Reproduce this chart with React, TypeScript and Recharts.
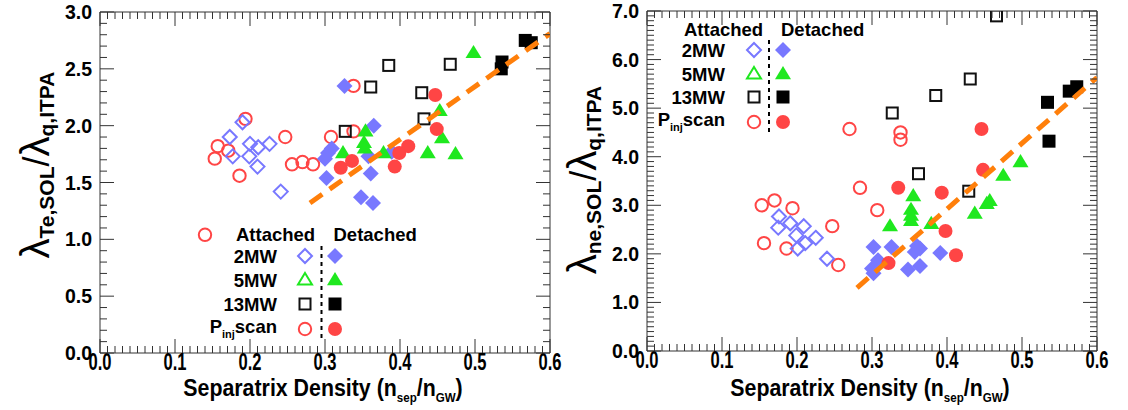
import React from 'react';
import { ScatterChart, Scatter, XAxis, YAxis } from 'recharts';

type Pt = { x: number; y: number };

// ---------------- Left panel: lambda_Te,SOL / lambda_q,ITPA ----------------
const teAtt2MW: Pt[] = [
  { x: 0.190, y: 2.03 }, { x: 0.173, y: 1.90 }, { x: 0.200, y: 1.84 }, { x: 0.211, y: 1.81 },
  { x: 0.226, y: 1.84 }, { x: 0.177, y: 1.73 }, { x: 0.199, y: 1.73 }, { x: 0.210, y: 1.64 },
  { x: 0.241, y: 1.42 },
];
const teDet2MW: Pt[] = [
  { x: 0.326, y: 2.35 }, { x: 0.365, y: 2.00 }, { x: 0.309, y: 1.80 }, { x: 0.304, y: 1.76 },
  { x: 0.300, y: 1.71 }, { x: 0.302, y: 1.54 }, { x: 0.358, y: 1.73 }, { x: 0.361, y: 1.58 },
  { x: 0.348, y: 1.37 }, { x: 0.364, y: 1.32 }, { x: 0.389, y: 1.77 },
];
const teDet5MW: Pt[] = [
  { x: 0.498, y: 2.64 }, { x: 0.453, y: 2.13 }, { x: 0.456, y: 1.89 }, { x: 0.437, y: 1.76 },
  { x: 0.474, y: 1.75 }, { x: 0.354, y: 1.95 }, { x: 0.352, y: 1.85 }, { x: 0.353, y: 1.80 },
  { x: 0.324, y: 1.76 }, { x: 0.378, y: 1.76 },
];
const teAtt13MW: Pt[] = [
  { x: 0.385, y: 2.53 }, { x: 0.467, y: 2.54 }, { x: 0.361, y: 2.34 }, { x: 0.429, y: 2.29 },
  { x: 0.432, y: 2.06 }, { x: 0.327, y: 1.95 },
];
const teDet13MW: Pt[] = [
  { x: 0.567, y: 2.75 }, { x: 0.575, y: 2.73 }, { x: 0.536, y: 2.56 }, { x: 0.535, y: 2.50 },
];
const teAttPinj: Pt[] = [
  { x: 0.194, y: 2.06 }, { x: 0.157, y: 1.82 }, { x: 0.171, y: 1.78 }, { x: 0.153, y: 1.71 },
  { x: 0.186, y: 1.56 }, { x: 0.247, y: 1.90 }, { x: 0.256, y: 1.66 }, { x: 0.270, y: 1.68 },
  { x: 0.284, y: 1.66 }, { x: 0.308, y: 1.90 }, { x: 0.338, y: 2.35 }, { x: 0.338, y: 1.95 },
  { x: 0.140, y: 1.04 },
];
const teDetPinj: Pt[] = [
  { x: 0.447, y: 2.27 }, { x: 0.449, y: 1.97 }, { x: 0.411, y: 1.82 }, { x: 0.399, y: 1.76 },
  { x: 0.393, y: 1.64 }, { x: 0.336, y: 1.69 }, { x: 0.321, y: 1.63 },
];
const teFit: Pt[] = [{ x: 0.28, y: 1.32 }, { x: 0.60, y: 2.81 }];

// ---------------- Right panel: lambda_ne,SOL / lambda_q,ITPA ----------------
const neAtt2MW: Pt[] = [
  { x: 0.176, y: 2.77 }, { x: 0.191, y: 2.63 }, { x: 0.175, y: 2.54 }, { x: 0.209, y: 2.57 },
  { x: 0.199, y: 2.38 }, { x: 0.225, y: 2.33 }, { x: 0.211, y: 2.22 }, { x: 0.201, y: 2.11 },
  { x: 0.240, y: 1.90 },
];
const neDet2MW: Pt[] = [
  { x: 0.302, y: 2.14 }, { x: 0.326, y: 2.14 }, { x: 0.308, y: 1.87 }, { x: 0.300, y: 1.70 },
  { x: 0.302, y: 1.60 }, { x: 0.360, y: 2.16 }, { x: 0.364, y: 2.11 }, { x: 0.357, y: 2.04 },
  { x: 0.391, y: 2.02 }, { x: 0.348, y: 1.68 }, { x: 0.364, y: 1.75 },
];
const neDet5MW: Pt[] = [
  { x: 0.355, y: 3.19 }, { x: 0.352, y: 2.91 }, { x: 0.352, y: 2.79 }, { x: 0.352, y: 2.68 },
  { x: 0.324, y: 2.57 }, { x: 0.379, y: 2.62 }, { x: 0.437, y: 2.83 }, { x: 0.453, y: 3.03 },
  { x: 0.457, y: 3.09 }, { x: 0.475, y: 3.61 }, { x: 0.498, y: 3.89 },
];
const neAtt13MW: Pt[] = [
  { x: 0.466, y: 6.90 }, { x: 0.431, y: 5.60 }, { x: 0.385, y: 5.26 }, { x: 0.327, y: 4.90 },
  { x: 0.362, y: 3.65 }, { x: 0.429, y: 3.29 },
];
const neDet13MW: Pt[] = [
  { x: 0.534, y: 5.12 }, { x: 0.563, y: 5.35 }, { x: 0.573, y: 5.44 }, { x: 0.536, y: 4.32 },
];
const neAttPinj: Pt[] = [
  { x: 0.270, y: 4.57 }, { x: 0.338, y: 4.50 }, { x: 0.338, y: 4.35 }, { x: 0.284, y: 3.36 },
  { x: 0.307, y: 2.90 }, { x: 0.153, y: 3.00 }, { x: 0.170, y: 3.10 }, { x: 0.194, y: 2.94 },
  { x: 0.247, y: 2.57 }, { x: 0.156, y: 2.22 }, { x: 0.186, y: 2.11 }, { x: 0.255, y: 1.77 },
];
const neDetPinj: Pt[] = [
  { x: 0.446, y: 4.57 }, { x: 0.448, y: 3.73 }, { x: 0.335, y: 3.36 }, { x: 0.393, y: 3.26 },
  { x: 0.398, y: 2.47 }, { x: 0.412, y: 1.97 }, { x: 0.322, y: 1.81 },
];
const neFit: Pt[] = [{ x: 0.28, y: 1.30 }, { x: 0.60, y: 5.63 }];

// ---------------- Axes ----------------
const xMajor = [0, 0.1, 0.2, 0.3, 0.4, 0.5, 0.6];
const xLabels = ['0.0', '0.1', '0.2', '0.3', '0.4', '0.5', '0.6'];
const xMinor = Array.from({ length: 61 }, (_, i) => i / 100);

const teYMajor = [0, 0.5, 1.0, 1.5, 2.0, 2.5, 3.0];
const teYLabels = ['0.0', '0.5', '1.0', '1.5', '2.0', '2.5', '3.0'];
const teYMinor = Array.from({ length: 31 }, (_, i) => i / 10);

const neYMajor = [0, 1, 2, 3, 4, 5, 6, 7];
const neYLabels = ['0.0', '1.0', '2.0', '3.0', '4.0', '5.0', '6.0', '7.0'];
const neYMinor = Array.from({ length: 71 }, (_, i) => i / 10);

const legendRows = ['2MW', '5MW', '13MW'];

// ---------------- Styles ----------------
const BLUE = '#7878ff';
const GREEN = '#1fe81f';
const RED = '#ff4545';
const BLACK = '#000000';
const ORANGE = '#ff7f0a';
const FRAME = '#333';
const SANS = '"Liberation Sans", Arial, Helvetica, sans-serif';

type Kind = 'diamond' | 'triangle' | 'square' | 'circle';

function Marker({ kind, filled, color, cx, cy }: { kind: Kind; filled: boolean; color: string; cx: number; cy: number }) {
  if (cx == null || cy == null) return <g />;
  const fill = filled ? color : 'none';
  const stroke = filled ? 'none' : color;
  const sw = 2;
  if (kind === 'diamond') {
    const r = filled ? 8 : 7;
    return <polygon points={`${cx},${cy - r} ${cx + r},${cy} ${cx},${cy + r} ${cx - r},${cy}`} fill={fill} stroke={stroke} strokeWidth={sw} />;
  }
  if (kind === 'triangle') {
    const h = filled ? 8 : 7;
    const w = filled ? 8 : 7;
    return <polygon points={`${cx},${cy - h} ${cx + w},${cy + h * 0.65} ${cx - w},${cy + h * 0.65}`} fill={fill} stroke={stroke} strokeWidth={sw} strokeLinejoin="miter" />;
  }
  if (kind === 'square') {
    const s = filled ? 13 : 11;
    return <rect x={cx - s / 2} y={cy - s / 2} width={s} height={s} fill={fill} stroke={filled ? 'none' : '#111'} strokeWidth={sw} />;
  }
  const r = filled ? 7 : 6.2;
  return <circle cx={cx} cy={cy} r={r} fill={fill} stroke={stroke} strokeWidth={sw} />;
}

const shapeOf = (kind: Kind, filled: boolean, color: string) => (p: any) => (
  <Marker kind={kind} filled={filled} color={color} cx={p.cx} cy={p.cy} />
);

const findIdx = (arr: number[], v: number) => arr.findIndex((m) => Math.abs(m - v) < 1e-6);

const bottomTick = (p: any) => {
  const { x, y, payload } = p;
  const i = findIdx(xMajor, payload.value);
  const len = i >= 0 ? 14 : 7;
  return (
    <g>
      <line x1={x} y1={y} x2={x} y2={y - len} stroke={FRAME} strokeWidth={1} />
      {i >= 0 && (
        <text transform={`translate(${x},${y + 17}) scale(0.72,1)`} x={0} y={0} textAnchor="middle"
          fontFamily={SANS} fontWeight="bold" fontSize={23} fill="#000">
          {xLabels[i]}
        </text>
      )}
    </g>
  );
};
const topTick = (p: any) => {
  const { x, y, payload } = p;
  const i = findIdx(xMajor, payload.value);
  const len = i >= 0 ? 14 : 7;
  return <line x1={x} y1={y} x2={x} y2={y + len} stroke={FRAME} strokeWidth={1} />;
};
const leftTick = (major: number[], labels: string[]) => (p: any) => {
  const { x, y, payload } = p;
  const i = findIdx(major, payload.value);
  const len = i >= 0 ? 14 : 7;
  return (
    <g>
      <line x1={x} y1={y} x2={x + len} y2={y} stroke={FRAME} strokeWidth={1} />
      {i >= 0 && (
        <text x={x - 8} y={y + 7} textAnchor="end" fontFamily={SANS} fontWeight="bold" fontSize={19.5} fill="#000">
          {labels[i]}
        </text>
      )}
    </g>
  );
};
const rightTick = (major: number[]) => (p: any) => {
  const { x, y, payload } = p;
  const i = findIdx(major, payload.value);
  const len = i >= 0 ? 14 : 7;
  return <line x1={x} y1={y} x2={x - len} y2={y} stroke={FRAME} strokeWidth={1} />;
};

type PanelProps = {
  left: number;
  margin: { top: number; right: number; bottom: number; left: number };
  yWidth: number;
  yDomain: [number, number];
  yMajor: number[];
  yLabels: string[];
  yMinor: number[];
  att2: Pt[]; det2: Pt[]; det5: Pt[]; att13: Pt[]; det13: Pt[]; attP: Pt[]; detP: Pt[]; fit: Pt[];
};

function Panel(props: PanelProps) {
  const { left, margin, yWidth, yDomain, yMajor, yLabels, yMinor } = props;
  const ax = { stroke: FRAME, strokeWidth: 1 };
  const common = { xAxisId: 'b', yAxisId: 'l', isAnimationActive: false } as any;
  return (
    <div style={{ position: 'absolute', left, top: 0 }}>
      <ScatterChart width={564} height={410} margin={margin}>
        <XAxis xAxisId="b" type="number" dataKey="x" domain={[0, 0.6]} ticks={xMinor} interval={0} height={50}
          tickSize={0} tickMargin={0} tickLine={false} axisLine={ax} tick={bottomTick} allowDataOverflow />
        <XAxis xAxisId="t" orientation="top" type="number" dataKey="x" domain={[0, 0.6]} ticks={xMinor} interval={0} height={2}
          tickSize={0} tickMargin={0} tickLine={false} axisLine={ax} tick={topTick} allowDataOverflow />
        <YAxis yAxisId="l" type="number" dataKey="y" domain={yDomain} ticks={yMinor} interval={0} width={yWidth}
          tickSize={0} tickMargin={0} tickLine={false} axisLine={ax} tick={leftTick(yMajor, yLabels)} allowDataOverflow />
        <YAxis yAxisId="r" orientation="right" type="number" dataKey="y" domain={yDomain} ticks={yMinor} interval={0} width={4}
          tickSize={0} tickMargin={0} tickLine={false} axisLine={ax} tick={rightTick(yMajor)} allowDataOverflow />
        <Scatter {...common} data={props.attP} shape={shapeOf('circle', false, RED)} />
        <Scatter {...common} data={props.att2} shape={shapeOf('diamond', false, BLUE)} />
        <Scatter {...common} data={props.det2} shape={shapeOf('diamond', true, BLUE)} />
        <Scatter {...common} data={props.att13} shape={shapeOf('square', false, BLACK)} />
        <Scatter {...common} data={props.det5} shape={shapeOf('triangle', true, GREEN)} />
        <Scatter {...common} data={props.detP} shape={shapeOf('circle', true, RED)} />
        <Scatter {...common} data={props.det13} shape={shapeOf('square', true, BLACK)} />
        <Scatter {...common} data={props.fit} shape={() => <g />}
          line={{ stroke: ORANGE, strokeWidth: 5, strokeDasharray: '15 9' }} lineType="joint" />
      </ScatterChart>
    </div>
  );
}

function Legend({ x0, yHead, rows, labelRight, openX, fillX, dashX }: {
  x0: number; yHead: number; rows: number[]; labelRight: number; openX: number; fillX: number; dashX: number;
}) {
  const kinds: [Kind, string][] = [['diamond', BLUE], ['triangle', GREEN], ['square', BLACK], ['circle', RED]];
  const tf = { fontFamily: SANS, fontWeight: 'bold' as const, fontSize: 18.5, fill: '#000' };
  return (
    <g>
      <text x={x0} y={yHead + 6.5} {...tf}>Attached</text>
      <text x={dashX + 12} y={yHead + 6.5} {...tf}>Detached</text>
      {rows.map((ry, i) => (
        <g key={i}>
          {i < 3 ? (
            <text x={labelRight} y={ry + 6.5} textAnchor="end" {...tf}>{legendRows[i]}</text>
          ) : (
            <text x={labelRight} y={ry + 4} textAnchor="end" {...tf}>
              P<tspan fontSize={11} dy={5}>inj</tspan><tspan dy={-5}>scan</tspan>
            </text>
          )}
          <Marker kind={kinds[i][0]} filled={false} color={kinds[i][1]} cx={openX} cy={ry} />
          <Marker kind={kinds[i][0]} filled={true} color={kinds[i][1]} cx={fillX} cy={ry} />
        </g>
      ))}
      <line x1={dashX} y1={rows[0] - 10} x2={dashX} y2={rows[3] + 10} stroke="#000" strokeWidth={2} strokeDasharray="4 4" />
    </g>
  );
}

function YTitle({ x, y, sub1 }: { x: number; y: number; sub1: string }) {
  return (
    <text transform={`translate(${x},${y}) rotate(-90)`} textAnchor="middle" fontFamily={SANS} fill="#000">
      <tspan fontSize={40}>λ</tspan>
      <tspan fontSize={21} fontWeight="bold" dy={5}>{sub1}</tspan>
      <tspan fontSize={36} dy={-5}>/</tspan>
      <tspan fontSize={40}>λ</tspan>
      <tspan fontSize={21} fontWeight="bold" dy={5}>q,ITPA</tspan>
    </text>
  );
}

function XTitle({ x, y }: { x: number; y: number }) {
  return (
    <text transform={`translate(${x},${y}) scale(0.89,1)`} x={0} y={0} textAnchor="middle" fontFamily={SANS}
      fontWeight="bold" fontSize={24} fill="#000">
      Separatrix Density (n<tspan fontSize={13} dy={6}>sep</tspan><tspan dy={-6}>/n</tspan>
      <tspan fontSize={13} dy={6}>GW</tspan><tspan dy={-6}>)</tspan>
    </text>
  );
}

export default function App() {
  return (
    <div style={{ position: 'absolute', left: 0, top: 0, width: 1128, height: 410, background: '#fff', overflow: 'hidden' }}>
      <Panel left={0} margin={{ top: 10, right: 10, bottom: 7, left: 10 }} yWidth={90} yDomain={[0, 3]}
        yMajor={teYMajor} yLabels={teYLabels} yMinor={teYMinor}
        att2={teAtt2MW} det2={teDet2MW} det5={teDet5MW} att13={teAtt13MW} det13={teDet13MW}
        attP={teAttPinj} detP={teDetPinj} fit={teFit} />
      <Panel left={564} margin={{ top: 9, right: 27, bottom: 9, left: 10 }} yWidth={73} yDomain={[0, 7]}
        yMajor={neYMajor} yLabels={neYLabels} yMinor={neYMinor}
        att2={neAtt2MW} det2={neDet2MW} det5={neDet5MW} att13={neAtt13MW} det13={neDet13MW}
        attP={neAttPinj} detP={neDetPinj} fit={neFit} />
      <svg width={1128} height={410} style={{ position: 'absolute', left: 0, top: 0, pointerEvents: 'none' }}>
        <Legend x0={236} yHead={234} rows={[256, 280, 304, 329]} labelRight={277} openX={305} fillX={335} dashX={321.5} />
        <Legend x0={684} yHead={29} rows={[50, 74, 97, 122]} labelRight={725} openX={754} fillX={783} dashX={769} />
        <YTitle x={49} y={165} sub1="Te,SOL" />
        <YTitle x={596} y={180} sub1="ne,SOL" />
        <XTitle x={323} y={396} />
        <XTitle x={870} y={396} />
      </svg>
    </div>
  );
}
